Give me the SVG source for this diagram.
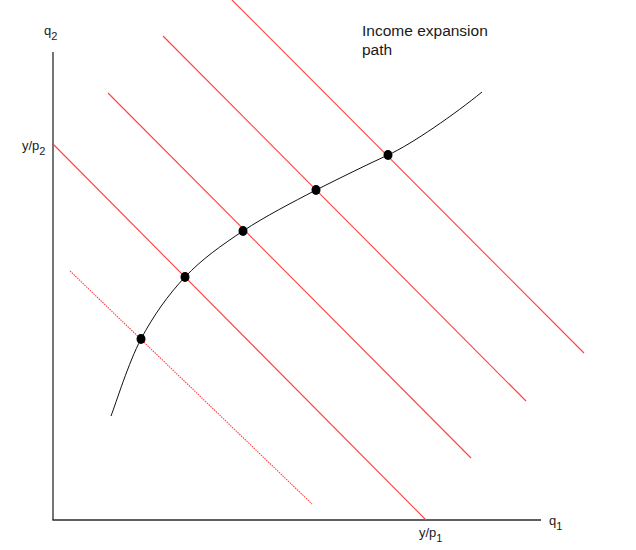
<svg xmlns="http://www.w3.org/2000/svg" width="636" height="550" viewBox="0 0 636 550">
<style>
.ax{stroke:#2a2a2a;stroke-width:1.3;fill:none}
.bl{stroke:#ff4040;stroke-width:1.1;fill:none}
.dot{fill:#000}
text{font-family:"Liberation Sans",Arial,sans-serif;fill:#1a1a1a}
.lbl{font-size:13px}
.sub{font-size:11px}
</style>
<rect width="636" height="550" fill="#fff"/>
<g id="axes">
<line class="ax" x1="53" y1="52" x2="53" y2="520"/>
<line class="ax" x1="52.4" y1="520" x2="541" y2="520"/>
</g>
<g id="budget-lines">
<line class="bl" x1="70" y1="271" x2="312" y2="504" stroke-dasharray="1.5,1"/>
<line class="bl" x1="53" y1="144" x2="426" y2="520"/>
<line class="bl" x1="108" y1="93" x2="471" y2="458"/>
<line class="bl" x1="163" y1="36" x2="526" y2="401"/>
<line class="bl" x1="232" y1="0" x2="584" y2="353"/>
</g>
<g id="connectors">
<path d="M111,416 C116,403 128.7,362.2 141,339 C153.3,315.8 168,295 185,277 C202,259 221.2,245.5 243,231 C264.8,216.5 291.8,202.7 316,190 C340,178 364,166 388,155 C412,144 455,114 482,92" fill="none" stroke="#111" stroke-width="1"/>
</g>
<g id="points">
<ellipse class="dot" cx="141" cy="339" rx="4.5" ry="5"/>
<ellipse class="dot" cx="185" cy="277" rx="4.5" ry="5"/>
<ellipse class="dot" cx="243" cy="231" rx="4.5" ry="5"/>
<ellipse class="dot" cx="316" cy="190" rx="4.5" ry="5"/>
<ellipse class="dot" cx="388" cy="155" rx="4.5" ry="5"/>
</g>
<g id="labels">
<text class="lbl" x="44" y="35">q<tspan class="sub" dy="5">2</tspan></text>
<text class="lbl" x="22" y="150">y/p<tspan class="sub" dy="5">2</tspan></text>
<text class="lbl" x="549" y="525">q<tspan class="sub" dy="5">1</tspan></text>
<text class="lbl" x="419" y="537">y/p<tspan class="sub" dy="5">1</tspan></text>
<text x="362" y="36" font-size="15.5">Income expansion</text>
<text x="362" y="55" font-size="15.5">path</text>
</g>
</svg>
